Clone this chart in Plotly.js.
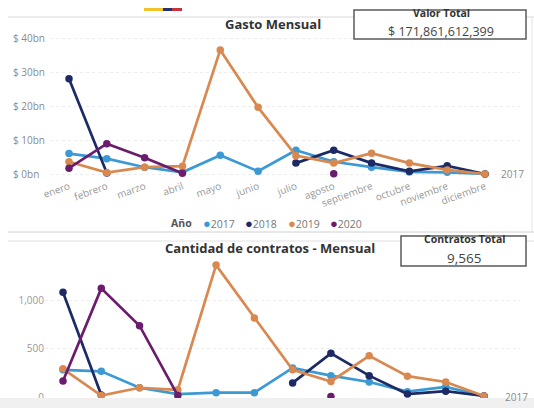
<!DOCTYPE html>
<html><head><meta charset="utf-8">
<script src="https://cdn.plot.ly/plotly-3.0.1.min.js"></script>
<style>html,body{margin:0;padding:0;background:#fff;}#chart{width:534px;height:408px;}</style>
</head><body><div id="chart"></div>
<script>
const months = ["enero","febrero","marzo","abril","mayo","junio","julio","agosto","septiembre","octubre","noviembre","diciembre"];
const years = ["2017","2018","2019","2020"];
const colors = ["#3b9ad4","#1c2a66","#d9894f","#6a1d6d"];

// Gasto mensual (billions)
const gasto2017 = [6.0, 4.5, 2.0, 0.5, 5.5, 0.8, 7.0, 3.6, 2.0, 0.6, 0.5, 0.0];
const gasto2018 = [28.0, 0.3, null, null, null, null, 3.2, 7.0, 3.2, 0.8, 2.4, 0.0];
const gasto2019 = [3.6, 0.4, 2.0, 2.3, 36.5, 19.6, 5.4, 3.2, 6.1, 3.2, 1.2, 0.0];
const gasto2020 = [1.7, 8.9, 4.8, 0.2, null, null, null, 0.1, null, null, null, null];

// Cantidad de contratos
const cont2017 = [280, 265, 95, 30, 45, 45, 300, 220, 155, 55, 105, 10];
const cont2018 = [1080, 20, null, null, null, null, 145, 450, 220, 30, 60, 10];
const cont2019 = [290, 15, 95, 75, 1360, 815, 280, 160, 425, 215, 155, 10];
const cont2020 = [165, 1120, 735, 15, null, null, null, 5, null, null, null, null];

const gastoTicks = [0, 10, 20, 30, 40];
const gastoTickText = ["$ 0bn","$ 10bn","$ 20bn","$ 30bn","$ 40bn"];
const contTicks = [0, 500, 1000];
const contTickText = ["0","500","1,000"];

const valorTotal = "$ 171,861,612,399";
const contratosTotal = "9,565";

const W = 534, H = 408;
const px = v => v / W;
const py = v => 1 - v / H;

const gastoSeries = [gasto2017, gasto2018, gasto2019, gasto2020];
const contSeries = [cont2017, cont2018, cont2019, cont2020];

const traces = [];
gastoSeries.forEach((s, i) => traces.push({
  x: months, y: s, type: 'scatter', mode: 'lines+markers', name: years[i],
  line: {color: colors[i], width: 2.7}, marker: {color: colors[i], size: 7.5},
  connectgaps: false, showlegend: false, xaxis: 'x', yaxis: 'y', cliponaxis: false
}));
contSeries.forEach((s, i) => traces.push({
  x: months, y: s, type: 'scatter', mode: 'lines+markers', name: years[i],
  line: {color: colors[i], width: 2.7}, marker: {color: colors[i], size: 7.5},
  connectgaps: false, showlegend: false, xaxis: 'x2', yaxis: 'y2', cliponaxis: false
}));

const FONT = "Open Sans, Liberation Sans, sans-serif";
const annotations = [];
gastoTicks.forEach((t, i) => annotations.push({
  xref: 'paper', yref: 'y', x: px(11), y: t, text: gastoTickText[i], showarrow: false,
  xanchor: 'left', yanchor: 'middle', font: {size: 10, color: '#8a8a8a', family: FONT}
}));
annotations.push({xref:'paper', yref:'paper', x: px(273), y: py(24), text: '<b>Gasto Mensual</b>', showarrow:false,
  xanchor:'center', yanchor:'middle', font:{size:13, color:'#333', family:FONT}});
annotations.push({xref:'paper', yref:'paper', x: px(270), y: py(248), text: '<b>Cantidad de contratos - Mensual</b>', showarrow:false,
  xanchor:'center', yanchor:'middle', font:{size:13, color:'#333', family:FONT}});
annotations.push({xref:'paper', yref:'paper', x: px(441), y: py(21), text: '<b>Valor Total</b>', showarrow:false,
  xanchor:'center', yanchor:'bottom', borderpad:0, font:{size:10.5, color:'#333', family:FONT}});
annotations.push({xref:'paper', yref:'paper', x: px(441), y: py(21.5), text: valorTotal, showarrow:false,
  xanchor:'center', yanchor:'top', borderpad:0, font:{size:12.5, color:'#444', family:FONT}});
annotations.push({xref:'paper', yref:'paper', x: px(464), y: py(247), text: '<b>Contratos Total</b>', showarrow:false,
  xanchor:'center', yanchor:'bottom', borderpad:0, font:{size:10.5, color:'#333', family:FONT}});
annotations.push({xref:'paper', yref:'paper', x: px(464), y: py(247.5), text: contratosTotal, showarrow:false,
  xanchor:'center', yanchor:'top', borderpad:0, font:{size:13.5, color:'#444', family:FONT}});
annotations.push({xref:'paper', yref:'y', x: px(512), y: 0, text: years[0], showarrow:false,
  xanchor:'center', yanchor:'middle', font:{size:10, color:'#8a8a8a', family:FONT}});
annotations.push({xref:'paper', yref:'y2', x: px(516), y: 0, text: years[0], showarrow:false,
  xanchor:'center', yanchor:'middle', font:{size:10, color:'#8a8a8a', family:FONT}});
// legend
annotations.push({xref:'paper', yref:'paper', x: px(169), y: py(223), text: '<b>Año</b>', showarrow:false,
  xanchor:'left', yanchor:'middle', font:{size:10.5, color:'#555', family:FONT}});
years.forEach((yr, i) => annotations.push({
  xref:'paper', yref:'paper', x: px(201 + i * 42.3), y: py(223),
  text: "<span style='color:" + colors[i] + ";font-size:13px'>●</span>" + yr, showarrow:false,
  xanchor:'left', yanchor:'middle', font:{size:10.5, color:'#777', family:FONT}
}));

const shapes = [
  {type:'line', xref:'paper', yref:'paper', x0: px(8), x1: 1, y0: py(17), y1: py(17), line:{color:'#d8d8d8', width:1}},
  {type:'line', xref:'paper', yref:'paper', x0: px(532), x1: px(532), y0: py(17), y1: py(232), line:{color:'#e4e4e4', width:1}},
  {type:'line', xref:'paper', yref:'paper', x0: px(8), x1: 1, y0: py(232), y1: py(232), line:{color:'#d0d0d0', width:1}},
  {type:'line', xref:'paper', yref:'paper', x0: px(8), x1: 1, y0: py(241), y1: py(241), line:{color:'#e0e0e0', width:1}},
  {type:'rect', xref:'paper', yref:'paper', x0: px(144), x1: px(163), y0: py(11), y1: py(8), fillcolor:'#f2c22b', line:{width:0}},
  {type:'rect', xref:'paper', yref:'paper', x0: px(163), x1: px(172), y0: py(11), y1: py(8), fillcolor:'#2a2f6e', line:{width:0}},
  {type:'rect', xref:'paper', yref:'paper', x0: px(172), x1: px(182), y0: py(11), y1: py(8), fillcolor:'#c8323c', line:{width:0}},
  {type:'rect', xref:'paper', yref:'paper', x0: px(354), x1: px(526), y0: py(39), y1: py(10), fillcolor:'rgba(255,255,255,0.95)', line:{color:'#5a5a5a', width:1.5}, layer:'above'},
  {type:'rect', xref:'paper', yref:'paper', x0: px(401), x1: px(526), y0: py(266), y1: py(236), fillcolor:'rgba(255,255,255,0.95)', line:{color:'#5a5a5a', width:1.5}, layer:'above'},
  {type:'rect', xref:'paper', yref:'paper', x0: 0, x1: 1, y0: 0, y1: py(398), fillcolor:'#f0f0f0', line:{width:0}, layer:'above'}
];

const sx1 = 416 / 11, sx2 = 421 / 11;
const layout = {
  width: W, height: H, margin: {l:0, r:0, t:0, b:0},
  paper_bgcolor: '#fff', plot_bgcolor: 'rgba(0,0,0,0)',
  font: {family: FONT},
  xaxis: {domain: [px(50), px(520)], type:'category', range: [-(69-50)/sx1, 11 + (520-485)/sx1],
    showgrid:false, zeroline:false, showline:false, ticks:'', tickangle: -20,
    tickfont:{size:10, color:'#999', family:FONT}, anchor:'y', fixedrange:true},
  yaxis: {domain: [py(178), py(30)], range: [-(178-174)/3.4, 40 + (38-30)/3.4],
    tickvals: gastoTicks, showticklabels:false, gridcolor:'#ececec', griddash:'dot', gridwidth:1,
    zeroline:false, showline:false, ticks:'', anchor:'x', fixedrange:true},
  xaxis2: {domain: [px(45), px(520)], type:'category', range: [-(63-45)/sx2, 11 + (520-484)/sx2],
    showgrid:false, zeroline:false, showline:false, ticks:'', showticklabels:false, anchor:'y2', fixedrange:true},
  yaxis2: {domain: [py(398), py(258)], range: [-(398-397)/0.097, 1000 + (300-258)/0.097],
    tickvals: contTicks, ticktext: contTickText, gridcolor:'#ececec', griddash:'dot', gridwidth:1,
    zeroline:false, showline:false, ticks:'', tickfont:{size:10, color:'#999', family:FONT}, anchor:'x2', fixedrange:true},
  annotations: annotations,
  shapes: shapes
};
Plotly.newPlot('chart', traces, layout, {displayModeBar:false, staticPlot:true});
</script></body></html>
